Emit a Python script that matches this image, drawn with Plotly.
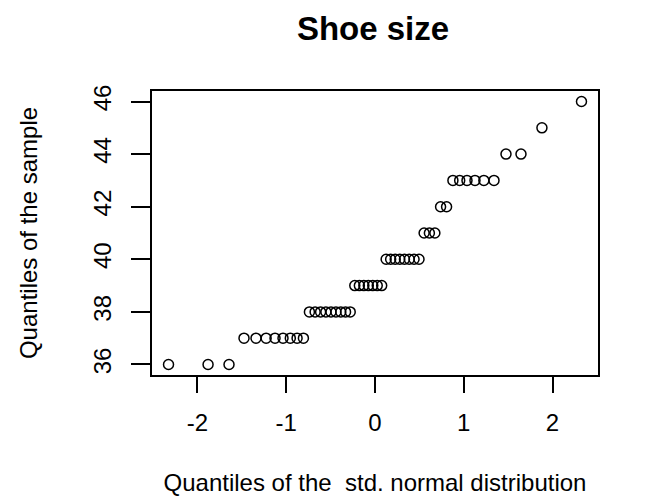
from statistics import NormalDist

import plotly.graph_objects as go

# Shoe sizes observed in the sample and how many people wear each size
shoe_sizes = [36, 37, 38, 39, 40, 41, 42, 43, 44, 45, 46]
size_counts = [3, 8, 9, 7, 8, 3, 2, 6, 2, 1, 1]

x_ticks = [-2, -1, 0, 1, 2]
y_ticks = [36, 38, 40, 42, 44, 46]

title_text = "Shoe size"
x_title = "Quantiles of the  std. normal distribution"
y_title = "Quantiles of the sample"

# Sorted sample and the matching standard-normal quantiles (ppoints, a = 0.5)
sample = [s for s, c in zip(shoe_sizes, size_counts) for _ in range(c)]
n = len(sample)
theoretical = [NormalDist().inv_cdf((i + 0.5) / n) for i in range(n)]

# Axis ranges padded by 4% on each side
def padded(lo, hi, frac=0.04):
    d = (hi - lo) * frac
    return [lo - d, hi + d]

x_range = padded(min(theoretical), max(theoretical))
y_range = padded(min(sample), max(sample))

FONT = "Liberation Sans, Arial, sans-serif"

fig = go.Figure(
    go.Scatter(
        x=theoretical,
        y=sample,
        mode="markers",
        marker=dict(
            symbol="circle-open",
            size=10,
            color="black",
            line=dict(width=1.5, color="black"),
        ),
        hoverinfo="x+y",
    )
)

fig.update_layout(
    width=653,
    height=500,
    margin=dict(l=152, r=55, t=91, b=125),
    paper_bgcolor="white",
    plot_bgcolor="white",
    showlegend=False,
    font=dict(family=FONT, color="black"),
    title=dict(
        text=f"<b>{title_text}</b>",
        font=dict(family=FONT, size=33, color="black"),
        x=373 / 653,
        xanchor="center",
        xref="container",
        y=1 - 28 / 500,
        yanchor="middle",
        yref="container",
    ),
)

fig.update_xaxes(
    range=x_range,
    automargin=False,
    tickmode="array",
    tickvals=x_ticks,
    ticktext=[str(v) for v in x_ticks],
    ticks="outside",
    ticklen=16,
    tickwidth=1.5,
    tickcolor="black",
    tickfont=dict(family=FONT, size=24, color="black"),
    ticklabelstandoff=9,
    showline=True,
    linecolor="black",
    linewidth=1.5,
    mirror=True,
    showgrid=False,
    zeroline=False,
    title=dict(text=x_title, font=dict(family=FONT, size=24, color="black"), standoff=40),
)

fig.update_yaxes(
    range=y_range,
    automargin=False,
    tickmode="array",
    tickvals=y_ticks,
    ticktext=[str(v) for v in y_ticks],
    ticks="outside",
    ticklen=19,
    tickwidth=1.5,
    tickcolor="black",
    tickangle=-90,
    tickfont=dict(family=FONT, size=24, color="black"),
    ticklabelstandoff=11,
    showline=True,
    linecolor="black",
    linewidth=1.5,
    mirror=True,
    showgrid=False,
    zeroline=False,
    title=dict(text=y_title, font=dict(family=FONT, size=24, color="black"), standoff=44),
)

fig.write_html("out.html")
